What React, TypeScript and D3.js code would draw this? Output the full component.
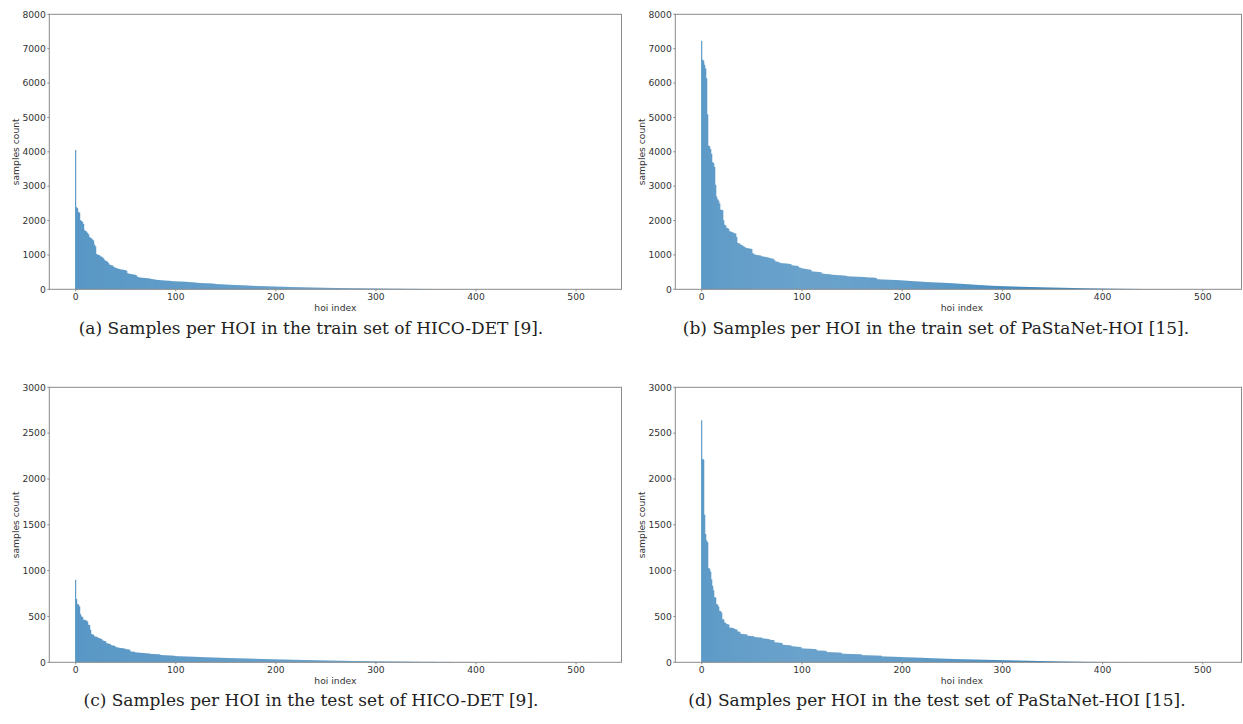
import React from "react";
import * as d3 from "d3";

// samples per HOI class, sorted in decreasing order
const HICO_TRAIN = [
  4050, 2390, 2360, 2250, 2230, 2010, 1990, 1960, 1900, 1720,
  1700, 1680, 1640, 1600, 1520, 1500, 1480, 1450, 1420, 1300,
  1250, 1030, 1010, 1000, 990, 960, 950, 930, 900, 860,
  830, 820, 800, 760, 720, 705, 700, 690, 660, 640,
  625, 615, 605, 595, 590, 580, 575, 570, 565, 560,
  555, 540, 470, 460, 450, 445, 440, 435, 430, 425,
  420, 400, 360, 350, 345, 340, 338, 335, 332, 330,
  328, 325, 322, 318, 312, 305, 300, 296, 290, 285,
  280, 276, 272, 270, 268, 265, 262, 260, 258, 256,
  254, 252, 250, 248, 246, 244, 240, 236, 234, 232,
  231, 230, 229, 227, 226, 225, 223, 222, 221, 219,
  218, 216, 214, 212, 210, 207, 205, 203, 200, 198,
  195, 192, 188, 186, 184, 182, 181, 180, 179, 178,
  176, 175, 174, 173, 172, 170, 168, 166, 163, 160,
  156, 152, 150, 148, 147, 146, 145, 143, 141, 140,
  138, 136, 134, 133, 132, 131, 130, 128, 127, 126,
  124, 123, 122, 120, 119, 118, 117, 115, 114, 113,
  112, 111, 110, 108, 106, 104, 102, 101, 100, 99,
  98, 97, 96, 95, 94, 93, 92, 91, 90, 89,
  88, 87, 86, 85, 84, 83, 82, 82, 81, 80,
  79, 78, 77, 76, 76, 75, 74, 73, 72, 72,
  71, 70, 69, 68, 68, 67, 66, 65, 64, 64,
  63, 62, 61, 61, 60, 59, 58, 58, 57, 56,
  56, 55, 54, 54, 53, 52, 52, 51, 50, 50,
  49, 48, 48, 47, 47, 46, 45, 45, 44, 44,
  43, 43, 42, 42, 41, 41, 40, 40, 39, 39,
  38, 38, 37, 37, 36, 36, 35, 35, 34, 34,
  33, 33, 33, 32, 32, 31, 31, 31, 30, 30,
  30, 29, 29, 29, 28, 28, 28, 27, 27, 27,
  26, 26, 26, 25, 25, 25, 24, 24, 24, 23,
  23, 23, 22, 22, 22, 21, 21, 21, 20, 20,
  20, 19, 19, 19, 18, 18, 18, 18, 17, 17,
  17, 17, 16, 16, 16, 16, 15, 15, 15, 15,
  14, 14, 14, 14, 13, 13, 13, 13, 12, 12,
  12, 12, 12, 11, 11, 11, 11, 10, 10, 10,
  10, 10, 9, 9, 9, 9, 9, 8, 8, 8,
  8, 8, 8, 7, 7, 7, 7, 7, 7, 6,
  6, 6, 6, 6, 6, 6, 5, 5, 5, 5,
  5, 5, 5, 5, 5, 4, 4, 4, 4, 4,
  4, 4, 4, 4, 4, 4, 3, 3, 3, 3,
  3, 3, 3, 3, 3, 3, 3, 3, 3, 3,
  2, 2, 2, 2, 2, 2, 2, 2, 2, 2,
  2, 2, 2, 2, 2, 2, 2, 2, 1, 1,
  1, 1, 1, 1, 1, 1, 1, 1, 1, 1,
  1, 1, 1, 1, 1, 1, 1, 1, 1, 1,
  1, 1, 1,
];

const PASTA_TRAIN = [
  7230, 6680, 6650, 6530, 6430, 6140, 5090, 4180, 4160, 4080,
  3940, 3700, 3670, 3560, 3040, 2700, 2620, 2580, 2500, 2320,
  2310, 2300, 2010, 1880, 1860, 1790, 1780, 1760, 1690, 1680,
  1670, 1660, 1640, 1630, 1620, 1520, 1350, 1340, 1330, 1300,
  1290, 1270, 1250, 1230, 1210, 1200, 1195, 1190, 1185, 1180,
  1170, 1050, 1040, 1010, 1005, 1000, 995, 990, 985, 980,
  960, 955, 950, 945, 940, 935, 930, 920, 910, 900,
  895, 890, 870, 840, 810, 805, 800, 790, 770, 765,
  760, 758, 755, 752, 750, 748, 745, 740, 735, 730,
  700, 695, 690, 688, 685, 683, 680, 640, 630, 625,
  610, 605, 600, 595, 590, 585, 580, 575, 570, 565,
  520, 518, 515, 512, 510, 508, 505, 502, 500, 498,
  460, 455, 450, 448, 446, 444, 442, 440, 435, 430,
  425, 422, 420, 418, 416, 414, 412, 410, 408, 405,
  402, 400, 398, 396, 394, 380, 378, 376, 374, 372,
  370, 369, 368, 367, 366, 365, 364, 363, 362, 361,
  360, 358, 356, 354, 352, 345, 344, 343, 342, 341,
  340, 338, 336, 334, 332, 295, 292, 290, 288, 286,
  284, 283, 282, 281, 280, 279, 278, 277, 276, 275,
  274, 273, 272, 271, 270, 268, 266, 264, 262, 260,
  258, 256, 254, 252, 250, 248, 246, 244, 242, 240,
  238, 236, 234, 232, 230, 229, 228, 226, 224, 222,
  220, 218, 216, 214, 212, 211, 210, 208, 206, 204,
  203, 202, 200, 199, 198, 197, 196, 195, 194, 193,
  192, 190, 188, 187, 186, 184, 182, 181, 180, 178,
  176, 174, 172, 170, 168, 166, 164, 163, 162, 160,
  158, 156, 154, 152, 150, 148, 146, 144, 142, 140,
  138, 136, 134, 132, 130, 128, 126, 125, 124, 122,
  120, 118, 116, 114, 112, 111, 110, 108, 106, 104,
  102, 101, 100, 99, 98, 97, 96, 95, 94, 93,
  92, 91, 90, 89, 88, 87, 86, 85, 84, 83,
  82, 81, 80, 79, 78, 77, 76, 76, 75, 74,
  73, 72, 71, 70, 70, 69, 68, 67, 66, 66,
  65, 64, 64, 63, 62, 62, 61, 60, 60, 59,
  58, 58, 57, 56, 56, 55, 54, 54, 53, 52,
  52, 51, 50, 50, 49, 48, 48, 47, 46, 46,
  45, 44, 44, 43, 42, 42, 41, 40, 40, 39,
  38, 38, 37, 37, 36, 35, 35, 34, 34, 33,
  33, 32, 32, 31, 31, 30, 30, 29, 29, 28,
  28, 27, 27, 26, 26, 25, 25, 25, 24, 24,
  23, 23, 22, 22, 22, 21, 21, 20, 20, 20,
  19, 19, 18, 18, 18, 17, 17, 16, 16, 16,
  15, 15, 15, 14, 14, 14, 13, 13, 13, 12,
  12, 12, 11, 11, 11, 10, 10, 10, 9, 9,
  9, 9, 8, 8, 8, 8, 7, 7, 7, 7,
  6, 6, 6, 6, 5, 5, 5, 5, 5, 4,
  4, 4, 4, 4, 3, 3, 3, 3, 3, 3,
  3, 2, 2, 2, 2, 2, 2, 2, 2, 2,
  2, 1, 1, 1, 1, 1, 1, 1, 1, 1,
  1, 1, 1, 1, 1,
];

const HICO_TEST = [
  900, 690, 635, 630, 610, 525, 500, 495, 465, 462,
  460, 455, 445, 410, 405, 355, 310, 305, 300, 285,
  280, 278, 275, 265, 262, 258, 255, 240, 236, 232,
  230, 210, 207, 204, 200, 195, 186, 184, 182, 180,
  170, 165, 162, 160, 158, 156, 155, 154, 152, 150,
  145, 143, 141, 140, 138, 120, 118, 116, 115, 114,
  108, 107, 106, 105, 105, 104, 103, 102, 101, 100,
  99, 98, 97, 96, 95, 92, 91, 91, 90, 90,
  89, 88, 88, 87, 86, 80, 79, 78, 78, 77,
  77, 76, 75, 75, 74, 74, 73, 72, 72, 71,
  68, 67, 67, 66, 66, 65, 65, 64, 64, 64,
  63, 63, 62, 62, 62, 61, 61, 61, 60, 60,
  60, 59, 59, 58, 58, 57, 57, 56, 56, 55,
  55, 55, 54, 54, 53, 53, 53, 52, 52, 52,
  51, 51, 50, 50, 50, 49, 49, 49, 48, 48,
  48, 47, 47, 47, 46, 46, 46, 45, 45, 45,
  44, 44, 44, 43, 43, 43, 43, 42, 42, 42,
  41, 41, 41, 40, 40, 40, 39, 39, 39, 38,
  38, 38, 37, 37, 37, 37, 36, 36, 36, 35,
  35, 35, 34, 34, 34, 34, 33, 33, 33, 33,
  32, 32, 32, 31, 31, 31, 31, 30, 30, 30,
  30, 29, 29, 29, 29, 28, 28, 28, 28, 27,
  27, 27, 27, 26, 26, 26, 26, 25, 25, 25,
  25, 24, 24, 24, 24, 23, 23, 23, 23, 22,
  22, 22, 22, 21, 21, 21, 21, 20, 20, 20,
  20, 20, 19, 19, 19, 19, 18, 18, 18, 18,
  18, 17, 17, 17, 17, 17, 16, 16, 16, 16,
  16, 15, 15, 15, 15, 15, 14, 14, 14, 14,
  14, 14, 13, 13, 13, 13, 13, 13, 12, 12,
  12, 12, 12, 12, 11, 11, 11, 11, 11, 11,
  11, 10, 10, 10, 10, 10, 10, 10, 9, 9,
  9, 9, 9, 9, 9, 9, 8, 8, 8, 8,
  8, 8, 8, 8, 8, 7, 7, 7, 7, 7,
  7, 7, 7, 7, 7, 6, 6, 6, 6, 6,
  6, 6, 6, 6, 6, 6, 5, 5, 5, 5,
  5, 5, 5, 5, 5, 5, 5, 5, 5, 5,
  4, 4, 4, 4, 4, 4, 4, 4, 4, 4,
  4, 4, 4, 4, 4, 4, 4, 3, 3, 3,
  3, 3, 3, 3, 3, 3, 3, 3, 3, 3,
  3, 3, 3, 3, 3, 3, 3, 3, 3, 3,
  3, 3, 2, 2, 2, 2, 2, 2, 2, 2,
  2, 2, 2, 2, 2, 2, 2, 2, 2, 2,
  2, 2, 2, 2, 2, 2, 2, 2, 2, 2,
  2, 2, 2, 2, 2, 2, 2, 2, 2, 2,
  2, 2, 2, 2, 2, 2, 2, 2, 2, 2,
  2, 2, 2, 2, 2, 2, 2, 2, 2, 2,
  1, 1, 1, 1, 1, 1, 1, 1, 1, 1,
  1, 1, 1, 1, 1, 1, 1, 1, 1, 1,
  1, 1, 1, 1, 1, 1, 1, 1, 1, 1,
  1, 1, 1, 1, 1, 1, 1, 1, 1, 1,
  1, 1, 1, 1, 1, 1, 1, 1, 1, 1,
  1, 1, 1, 1, 1, 1, 1,
];

const PASTA_TEST = [
  2640, 2220, 2210, 1610, 1400, 1330, 1310, 1030, 1020, 990,
  905, 835, 785, 712, 705, 635, 630, 608, 562, 558,
  542, 470, 468, 435, 430, 418, 415, 412, 380, 378,
  376, 374, 372, 362, 360, 358, 338, 335, 332, 312,
  310, 309, 308, 306, 305, 304, 290, 289, 288, 287,
  286, 285, 284, 275, 274, 273, 272, 271, 270, 270,
  269, 260, 259, 258, 257, 256, 255, 254, 246, 245,
  244, 243, 242, 218, 217, 216, 215, 214, 213, 212,
  211, 192, 191, 190, 189, 188, 187, 186, 185, 184,
  175, 174, 173, 172, 171, 170, 169, 168, 167, 166,
  152, 151, 150, 150, 149, 149, 148, 148, 147, 147,
  146, 146, 145, 145, 144, 130, 129, 128, 128, 127,
  127, 126, 126, 125, 125, 112, 111, 111, 110, 110,
  109, 109, 108, 108, 107, 107, 106, 106, 105, 105,
  94, 94, 93, 93, 92, 92, 91, 91, 91, 90,
  90, 90, 89, 89, 89, 88, 88, 88, 87, 87,
  78, 78, 77, 77, 77, 76, 76, 76, 75, 75,
  75, 74, 74, 74, 73, 73, 73, 72, 72, 72,
  64, 64, 63, 63, 63, 62, 62, 62, 61, 61,
  61, 60, 60, 60, 59, 59, 59, 58, 58, 58,
  56, 56, 55, 55, 55, 54, 54, 54, 53, 53,
  53, 52, 52, 52, 51, 51, 51, 50, 50, 50,
  49, 49, 48, 48, 47, 47, 46, 46, 45, 45,
  44, 44, 43, 43, 43, 42, 42, 41, 41, 41,
  40, 40, 39, 39, 39, 38, 38, 38, 37, 37,
  37, 36, 36, 36, 35, 35, 35, 34, 34, 34,
  33, 33, 33, 33, 32, 32, 32, 32, 31, 31,
  31, 31, 30, 30, 30, 30, 29, 29, 29, 29,
  28, 28, 28, 28, 27, 27, 27, 27, 26, 26,
  26, 26, 25, 25, 25, 25, 24, 24, 24, 24,
  23, 23, 23, 23, 22, 22, 22, 22, 21, 21,
  21, 21, 20, 20, 20, 20, 19, 19, 19, 19,
  18, 18, 18, 18, 17, 17, 17, 17, 16, 16,
  16, 16, 15, 15, 15, 15, 14, 14, 14, 14,
  13, 13, 13, 13, 12, 12, 12, 12, 12, 11,
  11, 11, 11, 11, 10, 10, 10, 10, 10, 9,
  9, 9, 9, 9, 9, 8, 8, 8, 8, 8,
  8, 7, 7, 7, 7, 7, 7, 6, 6, 6,
  6, 6, 6, 6, 5, 5, 5, 5, 5, 5,
  5, 5, 5, 4, 4, 4, 4, 4, 4, 4,
  4, 4, 4, 4, 4, 3, 3, 3, 3, 3,
  3, 3, 3, 3, 3, 3, 3, 3, 3, 3,
  2, 2, 2, 2, 2, 2, 2, 2, 2, 2,
  2, 2, 2, 2, 2, 2, 2, 2, 2, 2,
  2, 2, 2, 2, 2, 1, 1, 1, 1, 1,
  1, 1, 1, 1, 1, 1, 1, 1, 1, 1,
  1, 1, 1, 1, 1, 1, 1, 1, 1, 1,
  1, 1, 1, 1, 1, 1, 1, 1, 1, 1,
  1, 1, 1, 1, 1, 1, 1, 1, 1, 1,
  1, 1, 1, 1, 1, 1, 1, 1, 1, 1,
];

const X_TICKS = [0, 100, 200, 300, 400, 500];
const Y_TICKS_TRAIN = [0, 1000, 2000, 3000, 4000, 5000, 6000, 7000, 8000];
const Y_TICKS_TEST = [0, 500, 1000, 1500, 2000, 2500, 3000];
const X_DOMAIN = [-26.4, 545.4];

const CAPTIONS = [
  "(a) Samples per HOI in the train set of HICO-DET [9].",
  "(b) Samples per HOI in the train set of PaStaNet-HOI [15].",
  "(c) Samples per HOI in the test set of HICO-DET [9].",
  "(d) Samples per HOI in the test set of PaStaNet-HOI [15].",
];

const tickFont = "DejaVu Sans, sans-serif";
const spine = "#8a8a8a";

function HoiHist(props) {
  const { data, left, top, right, frameRight, bottom, yMax, yTicks, caption, captionX, captionY } = props;

  const xScale = d3.scaleLinear().domain(X_DOMAIN).range([left, right]);
  const yScale = d3.scaleLinear().domain([0, yMax]).range([bottom, top]);
  const bw = xScale(0.45) - xScale(-0.45);

  return (
    <g>
      {/* bars */}
      {data.map((v, i) => (
        <rect
          key={i}
          x={xScale(i - 0.45)}
          y={yScale(v)}
          width={bw}
          height={bottom - yScale(v)}
          fill="#2a7ab5"
        />
      ))}

      {/* frame (right side of (b)/(d) is cut by the page edge) */}
      <rect
        x={left}
        y={top}
        width={frameRight - left}
        height={bottom - top}
        fill="none"
        stroke={spine}
        strokeWidth={1}
      />

      {/* y axis */}
      {yTicks.map((t) => (
        <g key={t}>
          <line x1={left - 2} x2={left} y1={yScale(t)} y2={yScale(t)} stroke={spine} />
          <text
            x={left - 3.5}
            y={yScale(t)}
            dy="0.35em"
            textAnchor="end"
            fontSize={9.2}
            fontFamily={tickFont}
            fill="#333"
          >
            {t}
          </text>
        </g>
      ))}
      <text
        transform={`translate(${left - 34}, ${(top + bottom) / 2}) rotate(-90)`}
        textAnchor="middle"
        dy="0.35em"
        fontSize={9.2}
        fontFamily={tickFont}
        fill="#333"
      >
        samples count
      </text>

      {/* x axis */}
      {X_TICKS.map((t) => (
        <g key={t}>
          <line x1={xScale(t)} x2={xScale(t)} y1={bottom} y2={bottom + 2} stroke={spine} />
          <text
            x={xScale(t)}
            y={bottom + 11}
            textAnchor="middle"
            fontSize={9.2}
            fontFamily={tickFont}
            fill="#333"
          >
            {t}
          </text>
        </g>
      ))}
      <text
        x={(left + right) / 2}
        y={bottom + 22}
        textAnchor="middle"
        fontSize={9.2}
        fontFamily={tickFont}
        fill="#333"
      >
        hoi index
      </text>

      <text
        x={captionX}
        y={captionY}
        textAnchor="middle"
        fontSize={17}
        fontFamily="DejaVu Serif, serif"
        fill="#222"
      >
        {caption}
      </text>
    </g>
  );
}

export default function App() {
  return (
    <svg
      width={1243}
      height={724}
      style={{ position: "absolute", left: 0, top: 0, background: "#fff" }}
    >
      <HoiHist
        data={HICO_TRAIN}
        left={49.3}
        right={621.5}
        frameRight={621.5}
        top={14.3}
        bottom={289.3}
        yMax={8000}
        yTicks={Y_TICKS_TRAIN}
        caption={CAPTIONS[0]}
        captionX={311}
        captionY={334}
      />
      <HoiHist
        data={PASTA_TRAIN}
        left={675.3}
        right={1248.3}
        frameRight={1241.5}
        top={14.3}
        bottom={289.3}
        yMax={8000}
        yTicks={Y_TICKS_TRAIN}
        caption={CAPTIONS[1]}
        captionX={936}
        captionY={334}
      />
      <HoiHist
        data={HICO_TEST}
        left={49.3}
        right={621.5}
        frameRight={621.5}
        top={387.3}
        bottom={662.3}
        yMax={3000}
        yTicks={Y_TICKS_TEST}
        caption={CAPTIONS[2]}
        captionX={311}
        captionY={706}
      />
      <HoiHist
        data={PASTA_TEST}
        left={675.3}
        right={1248.3}
        frameRight={1241.5}
        top={387.3}
        bottom={662.3}
        yMax={3000}
        yTicks={Y_TICKS_TEST}
        caption={CAPTIONS[3]}
        captionX={937}
        captionY={706}
      />
    </svg>
  );
}
